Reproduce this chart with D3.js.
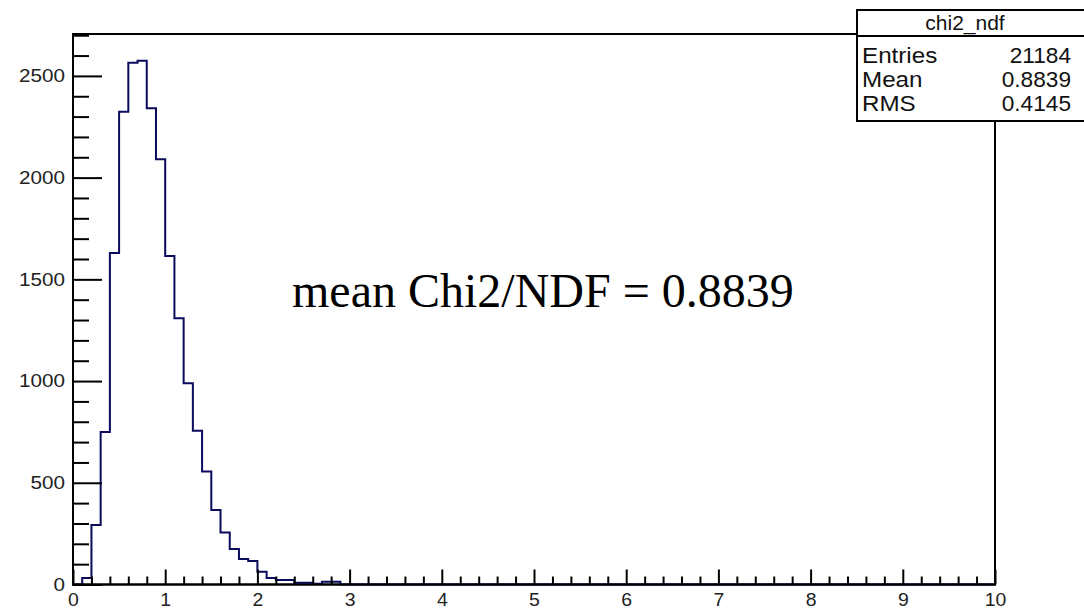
<!DOCTYPE html>
<html>
<head>
<meta charset="utf-8">
<script src="https://cdn.jsdelivr.net/npm/d3@7"></script>
<style>
  html, body { margin: 0; padding: 0; background: #fff; }
  svg { display: block; }
  .tick text { font-family: "Liberation Sans", Arial, sans-serif; fill: #222; }
</style>
</head>
<body>
<svg id="chart" width="1084" height="613"></svg>
<script>
// ---- data ----
const binWidth = 0.1;
const binStarts = [0.0,0.1,0.2,0.3,0.4,0.5,0.6,0.7,0.8,0.9,1.0,1.1,1.2,1.3,1.4,1.5,1.6,1.7,1.8,1.9,2.0,2.1,2.2,2.3,2.4,2.5,2.6,2.7,2.8];
const counts    = [0,32,292,750,1630,2324,2565,2575,2341,2090,1615,1309,989,756,555,366,255,175,125,115,63,32,22,22,9,9,4,14,14];
const xTicks = [0,1,2,3,4,5,6,7,8,9,10];
const yTicks = [0,500,1000,1500,2000,2500];
const statsTitle = "chi2_ndf";
const statsNames = ["Entries","Mean","RMS"];
const statsValues = ["21184","0.8839","0.4145"];
const annotation = "mean Chi2/NDF = 0.8839";
const xDomain = [0, 10];
const yDomain = [0, 2706];

// ---- layout ----
const svg = d3.select("#chart");
const L = 73, R = 995, T = 34, B = 584.5;
const x = d3.scaleLinear().domain(xDomain).range([L, R]);
const y = d3.scaleLinear().domain(yDomain).range([B, T]);
const SANS = "Liberation Sans, Arial, sans-serif";

// frame
svg.append("rect").attr("x", L).attr("y", T).attr("width", R - L).attr("height", B - T)
  .attr("fill", "#fff").attr("stroke", "#000").attr("stroke-width", 2);

// histogram outline
const pts = [[xDomain[0], 0]];
binStarts.forEach((s, i) => { pts.push([s, counts[i]]); });
pts.push([binStarts[binStarts.length - 1] + binWidth, 0]);
pts.push([xDomain[1], 0]);
const line = d3.line().x(d => x(d[0])).y(d => y(d[1])).curve(d3.curveStepAfter);
svg.append("path").attr("d", line(pts)).attr("fill", "none")
  .attr("stroke", "#0b0b5e").attr("stroke-width", 2);

// y axis minor
const yMinor = d3.range(100, 2701, 100).filter(v => v % 500 !== 0);
svg.append("g").attr("transform", `translate(${L},0)`)
  .call(d3.axisLeft(y).tickValues(yMinor).tickSize(-16).tickFormat(""))
  .call(g => g.select(".domain").remove())
  .call(g => g.selectAll("line").attr("stroke", "#000").attr("stroke-width", 2));
// y axis major
const sx = 1.15;
svg.append("g").attr("transform", `translate(${L},0)`)
  .call(d3.axisLeft(y).tickValues(yTicks).tickSize(-29).tickPadding(8).tickFormat(d3.format("d")))
  .call(g => g.select(".domain").remove())
  .call(g => g.selectAll("line").attr("stroke", "#000").attr("stroke-width", 2))
  .call(g => g.selectAll("text").attr("font-size", 18).attr("dy", "0.32em")
      .attr("x", -8 / sx).attr("transform", `scale(${sx},1)`));

// x axis minor
const xMinor = d3.range(0.2, 10, 0.2).map(v => +v.toFixed(1)).filter(v => Math.abs(v - Math.round(v)) > 1e-6);
svg.append("g").attr("transform", `translate(0,${B})`)
  .call(d3.axisBottom(x).tickValues(xMinor).tickSize(-8).tickFormat(""))
  .call(g => g.select(".domain").remove())
  .call(g => g.selectAll("line").attr("stroke", "#000").attr("stroke-width", 2));
// x axis major
svg.append("g").attr("transform", `translate(0,${B})`)
  .call(d3.axisBottom(x).tickValues(xTicks).tickSize(-15).tickPadding(9).tickFormat(d3.format("d")))
  .call(g => g.select(".domain").remove())
  .call(g => g.selectAll("line").attr("stroke", "#000").attr("stroke-width", 2))
  .call(g => g.selectAll("text").attr("font-size", 18).attr("transform", "scale(1.08,1)"));

// frame border on top of ticks
svg.append("rect").attr("x", L).attr("y", T).attr("width", R - L).attr("height", B - T)
  .attr("fill", "none").attr("stroke", "#000").attr("stroke-width", 2);

// stats box
const SX = 857, SY = 10, SW = 240, SH = 111, HH = 26;
const sb = svg.append("g");
sb.append("rect").attr("x", SX).attr("y", SY).attr("width", SW).attr("height", SH)
  .attr("fill", "#fff").attr("stroke", "#000").attr("stroke-width", 2);
sb.append("line").attr("x1", SX).attr("x2", SX + SW).attr("y1", SY + HH).attr("y2", SY + HH)
  .attr("stroke", "#000").attr("stroke-width", 2);
function stext(tx, ty, anchor, size, scale, str) {
  sb.append("g").attr("transform", `translate(${tx},${ty}) scale(${scale},1)`)
    .append("text").attr("text-anchor", anchor)
    .attr("font-family", SANS).attr("font-size", size).attr("fill", "#111").text(str);
}
stext(965, SY + 20, "middle", 20, 1.05, statsTitle);
statsNames.forEach((n, i) => {
  const by = 63 + i * 24;
  stext(862, by, "start", 22, 1.1, n);
  stext(1071, by, "end", 22, 1.03, statsValues[i]);
});

// annotation
svg.append("text").attr("x", 292).attr("y", 307)
  .attr("font-family", "Liberation Serif, 'Times New Roman', serif").attr("font-size", 48).attr("fill", "#000")
  .text(annotation);
</script>
</body>
</html>
